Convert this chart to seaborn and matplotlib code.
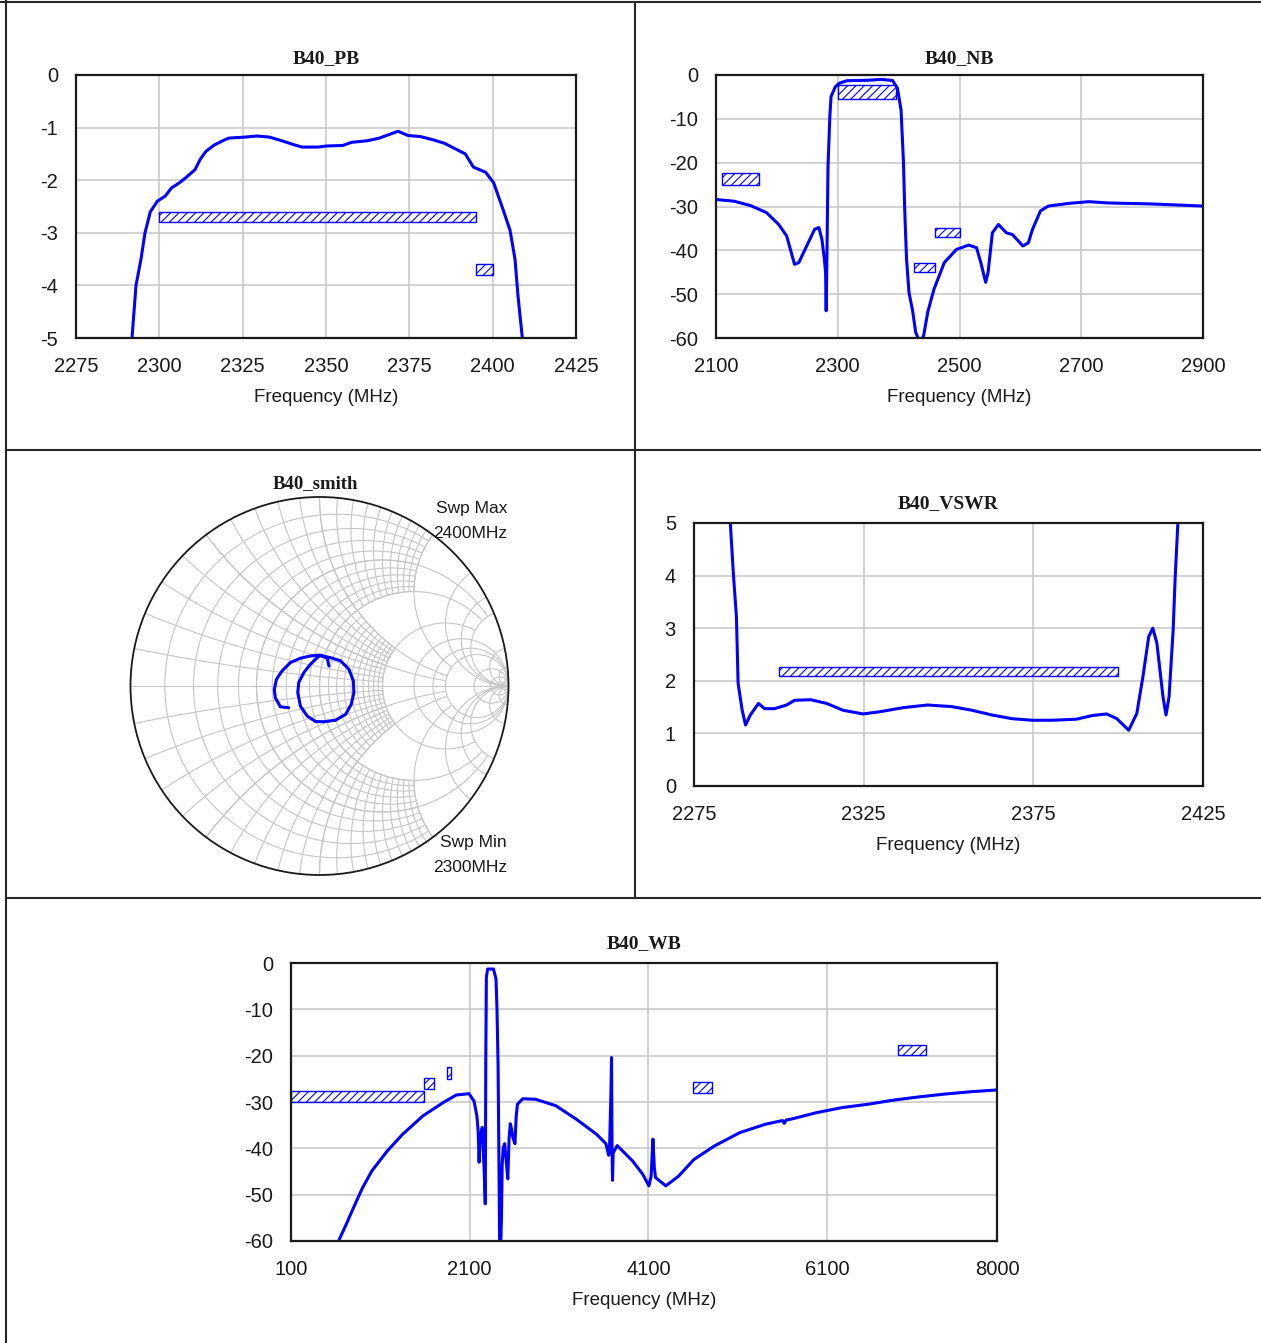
import matplotlib
matplotlib.use("Agg")
import matplotlib.pyplot as plt
import numpy as np
import seaborn as sns
from matplotlib.lines import Line2D
from matplotlib.patches import Rectangle, Circle

# ---- data ----
pb_freq = [2291.8, 2293.0, 2294.5, 2295.7, 2297.3, 2299.4, 2301.8, 2303.6, 2306.0, 2308.0,
           2310.7, 2312.3, 2314.0, 2316.5, 2319.0, 2320.8, 2325.8, 2329.3, 2333.0, 2336.7,
           2340.6, 2342.8, 2347.7, 2350.0, 2355.0, 2357.7, 2362.4, 2366.0, 2369.0, 2371.6,
           2374.6, 2378.3, 2382.0, 2385.6, 2389.3, 2391.8, 2394.2, 2397.9, 2400.3, 2402.8,
           2405.2, 2406.7, 2407.6, 2408.9]
pb_db = [-5.0, -4.0, -3.5, -3.0, -2.6, -2.4, -2.3, -2.15, -2.05, -1.95,
         -1.8, -1.6, -1.45, -1.33, -1.25, -1.2, -1.18, -1.16, -1.18, -1.25,
         -1.33, -1.37, -1.37, -1.35, -1.34, -1.28, -1.25, -1.2, -1.13, -1.07,
         -1.15, -1.17, -1.23, -1.3, -1.42, -1.5, -1.75, -1.85, -2.05, -2.5,
         -2.95, -3.5, -4.2, -5.0]
pb_specs = [(2300, 2395, -2.8, -2.6), (2395, 2400, -3.8, -3.6)]

nb_freq = [2100, 2130, 2157, 2183, 2203, 2216, 2229, 2236, 2249, 2262, 2269, 2274, 2278,
           2280, 2281, 2282, 2284, 2287, 2289, 2296, 2302, 2315, 2350, 2371, 2390, 2398,
           2404, 2408, 2410, 2413, 2417, 2423, 2428, 2435, 2441, 2448, 2458, 2475, 2495,
           2515, 2528, 2535, 2543, 2547, 2554, 2564, 2577, 2587, 2604, 2613, 2620, 2633,
           2646, 2679, 2712, 2745, 2812, 2900]
nb_db = [-28.4, -28.8, -29.8, -31.4, -34.1, -36.7, -43.2, -42.8, -39.0, -35.2, -34.8, -37.5, -42.0,
         -45.0, -53.8, -44.0, -20.8, -9.5, -4.9, -2.7, -1.9, -1.3, -1.2, -1.0, -1.25, -3.0,
         -8.0, -20.0, -30.7, -42.0, -49.6, -53.8, -58.7, -61.0, -59.5, -54.0, -48.9, -42.8, -39.8,
         -38.8, -39.4, -42.8, -47.3, -45.0, -36.0, -34.1, -36.0, -36.4, -39.0, -38.3, -35.2, -31.0,
         -29.9, -29.3, -28.9, -29.2, -29.4, -29.9]
nb_specs = [(2110, 2170, -25, -22.3), (2300, 2395, -5.5, -2.3),
            (2460, 2500, -37, -35), (2426, 2460, -45, -43)]

vswr_freq = [2285.7, 2286.6, 2287.5, 2288.0, 2289.2, 2290.2, 2291.6, 2294.0, 2295.8, 2298.7,
             2302.3, 2304.7, 2309.4, 2314.1, 2318.9, 2324.8, 2329.6, 2336.7, 2343.8, 2350.9,
             2356.9, 2362.8, 2368.7, 2374.6, 2380.6, 2387.7, 2392.4, 2396.6, 2399.6, 2403.1,
             2405.5, 2407.3, 2409.0, 2410.2, 2411.4, 2413.2, 2414.1, 2415.0, 2416.2, 2416.8,
             2417.6]
vswr_val = [5.0, 4.04, 3.22, 1.95, 1.44, 1.16, 1.35, 1.57, 1.47, 1.47,
            1.54, 1.63, 1.64, 1.57, 1.44, 1.37, 1.41, 1.49, 1.54, 1.51,
            1.44, 1.35, 1.28, 1.25, 1.25, 1.27, 1.34, 1.37, 1.28, 1.06,
            1.38, 2.08, 2.84, 3.0, 2.72, 1.7, 1.35, 1.7, 2.96, 3.97,
            5.0]
vswr_specs = [(2300, 2400, 2.1, 2.27)]

wb_freq = [632, 718, 832, 901, 1004, 1176, 1347, 1576, 1805, 1948, 2091, 2148, 2180, 2194,
           2205, 2215, 2240, 2262, 2274, 2280, 2286, 2300, 2366, 2394, 2405, 2417, 2428, 2434,
           2445, 2455, 2463, 2475, 2491, 2505, 2526, 2540, 2554, 2570, 2583, 2606, 2620, 2634,
           2692, 2835, 3063, 3292, 3521, 3624, 3655, 3664, 3680, 3687, 3692, 3698, 3705, 3750,
           3921, 4036, 4105, 4130, 4150, 4165, 4179, 4294, 4437, 4609, 4837, 5123, 5409, 5600,
           5620, 5640, 5695, 5981, 6267, 6553, 6839, 7125, 7411, 7697, 8000]
wb_db = [-60.0, -56.4, -51.4, -48.5, -44.9, -40.6, -37.0, -33.0, -30.1, -28.5, -28.2, -29.8, -33.0, -36.2,
         -43.0, -38.0, -35.5, -45.0, -52.0, -20.0, -3.1, -1.3, -1.3, -3.5, -10.0, -21.8, -45.0, -60.0,
         -62.0, -55.0, -43.5, -40.0, -39.0, -42.0, -46.6, -38.0, -34.7, -36.0, -37.7, -39.0, -33.0, -30.5,
         -29.3, -29.4, -30.8, -33.7, -37.0, -39.0, -41.5, -40.4, -28.0, -20.4, -40.0, -46.9, -41.0, -39.4,
         -42.7, -45.6, -48.1, -46.0, -38.0, -44.0, -46.3, -48.1, -46.0, -42.4, -39.5, -36.6, -34.8, -34.0,
         -34.6, -33.9, -33.7, -32.3, -31.2, -30.5, -29.6, -28.9, -28.3, -27.8, -27.4]
wb_specs = [(100, 1590, -30, -27.7), (1590, 1700, -27.2, -24.8), (1845, 1885, -25, -22.5),
            (4598, 4811, -28.1, -25.7), (6892, 7205, -19.9, -17.7)]

# reflection coefficient trace (real, imag) for the Smith chart
smith_re = [-0.163, -0.207, -0.234, -0.239, -0.228, -0.198, -0.154, -0.101, -0.048, -0.004,
            0.058, 0.112, 0.156, 0.179, 0.182, 0.168, 0.138, 0.085, 0.023, -0.021,
            -0.065, -0.101, -0.115, -0.110, -0.083, -0.048, -0.012, 0.005, 0.041, 0.050]
smith_im = [-0.115, -0.110, -0.062, -0.018, 0.035, 0.080, 0.124, 0.147, 0.159, 0.163,
            0.150, 0.133, 0.088, 0.027, -0.035, -0.097, -0.150, -0.181, -0.189, -0.188,
            -0.159, -0.106, -0.035, 0.018, 0.071, 0.115, 0.150, 0.163, 0.147, 0.106]

# ---- style ----
sns.set_style("white")
plt.rcParams.update({
    "font.family": ["Liberation Sans", "DejaVu Sans"],
    "axes.unicode_minus": False,
    "hatch.linewidth": 0.8,
})

BLUE = "#0000ff"
GRID = "#c6c6c6"
W, H = 1261, 1343

fig = plt.figure(figsize=(W / 100, H / 100), dpi=100)


def px_axes(left, top, right, bottom):
    return fig.add_axes([left / W, 1 - bottom / H, (right - left) / W, (bottom - top) / H])


def style_rect(ax, title, xlim, ylim, xticks, yticks, title_pad):
    ax.set_xlim(*xlim)
    ax.set_ylim(*ylim)
    ax.set_xticks(xticks)
    ax.set_yticks(yticks)
    ax.grid(True, color=GRID, linewidth=1.1)
    ax.set_axisbelow(True)
    for sp in ax.spines.values():
        sp.set_color("#1a1a1a")
        sp.set_linewidth(1.6)
    ax.tick_params(axis="both", length=0, labelsize=14.5, colors="#1a1a1a")
    ax.tick_params(axis="x", pad=14)
    ax.tick_params(axis="y", pad=13)
    ax.set_xlabel("Frequency (MHz)", fontsize=13.5, labelpad=9, color="#1a1a1a")
    ax.set_ylabel("")
    ax.set_title(title, fontsize=14, fontweight="bold", family="Liberation Serif",
                 pad=title_pad, color="#1a1a1a")


def add_specs(ax, specs):
    for x0, x1, y0, y1 in specs:
        ax.add_patch(Rectangle((x0, y0), x1 - x0, y1 - y0, fill=False,
                               edgecolor=BLUE, hatch="////", linewidth=1.0))


def trace(ax, x, y):
    sns.lineplot(x=x, y=y, ax=ax, color=BLUE, linewidth=2.2,
                 sort=False, estimator=None)


# B40_PB
ax1 = px_axes(76, 75, 576, 338)
trace(ax1, pb_freq, pb_db)
add_specs(ax1, pb_specs)
style_rect(ax1, "B40_PB", (2275, 2425), (-5, 0), range(2275, 2426, 25), range(-5, 1), 8.5)

# B40_NB
ax2 = px_axes(716, 75, 1203, 338)
trace(ax2, nb_freq, nb_db)
add_specs(ax2, nb_specs)
style_rect(ax2, "B40_NB", (2100, 2900), (-60, 0), range(2100, 2901, 200), range(-60, 1, 10), 8.5)

# B40_VSWR
ax4 = px_axes(694, 523, 1203, 786)
trace(ax4, vswr_freq, vswr_val)
add_specs(ax4, vswr_specs)
style_rect(ax4, "B40_VSWR", (2275, 2425), (0, 5), [2275, 2325, 2375, 2425], range(0, 6), 11)

# B40_WB
ax5 = px_axes(291, 963, 997, 1241)
trace(ax5, wb_freq, wb_db)
add_specs(ax5, wb_specs)
style_rect(ax5, "B40_WB", (100, 8000), (-60, 0), [100, 2100, 4100, 6100, 8000],
           range(-60, 1, 10), 10.5)

# B40_smith
cx, cy, rad = 319.5, 686, 189
ax3 = px_axes(cx - rad, cy - rad, cx + rad, cy + rad)
ax3.set_xlim(-1, 1)
ax3.set_ylim(-1, 1)
ax3.set_aspect("equal")
ax3.axis("off")


def gamma(z):
    return (z - 1) / (z + 1)


def r_circle(r, xmax):
    if xmax is None:
        t = np.linspace(0, 2 * np.pi, 500)
        g = r / (1 + r) + np.exp(1j * t) / (1 + r)
    else:
        g = gamma(r + 1j * np.linspace(-xmax, xmax, 600))
    ax3.plot(g.real, g.imag, color=GRID, lw=0.8, zorder=1)


def x_arc(x, rmax):
    rr = np.concatenate([np.linspace(0, 1, 200), np.logspace(0, 4, 400)])
    if rmax is not None:
        rr = rr[rr <= rmax]
    for s in (1, -1):
        g = gamma(rr + 1j * s * x)
        ax3.plot(g.real, g.imag, color=GRID, lw=0.8, zorder=1)


fine = np.round(np.arange(0.1, 2.01, 0.1), 1)
for v in fine:
    r_circle(v, 2 if v <= 1 else 1)
    x_arc(v, 2 if v <= 1 else 1)
for v in [0.5, 1, 2]:
    r_circle(v, 5)
    x_arc(v, 5)
for v in [3, 4, 5, 10, 20, 50]:
    r_circle(v, None)
    x_arc(v, None)
ax3.plot([-1, 1], [0, 0], color=GRID, lw=0.8, zorder=1)
ax3.add_patch(Circle((0, 0), 1, fill=False, edgecolor="#1a1a1a", lw=1.3, clip_on=False, zorder=2))
sns.lineplot(x=smith_re, y=smith_im, ax=ax3, color=BLUE, linewidth=2.2,
             sort=False, estimator=None)
ax3.set_xlabel("")
ax3.set_ylabel("")


def ftext(x, y, s, **kw):
    fig.text(x / W, 1 - y / H, s, **kw)


ftext(315, 488, "B40_smith", ha="center", va="baseline", fontsize=13.5,
      fontweight="bold", family="Liberation Serif", color="#1a1a1a")
for y, s in [(508, "Swp Max"), (533, "2400MHz"), (843, "Swp Min"), (868, "2300MHz")]:
    ftext(507, y, s, ha="right", va="center", fontsize=12.5, color="#1a1a1a")

# panel borders
for (x0, y0, x1, y1) in [(6, 0, 6, H), (0, 2, W, 2), (635, 2, 635, 898),
                         (6, 450, W, 450), (6, 898, W, 898)]:
    fig.add_artist(Line2D([x0 / W, x1 / W], [1 - y0 / H, 1 - y1 / H],
                          color="#262626", lw=1.5, transform=fig.transFigure))

fig.savefig("out.png", dpi=100)
